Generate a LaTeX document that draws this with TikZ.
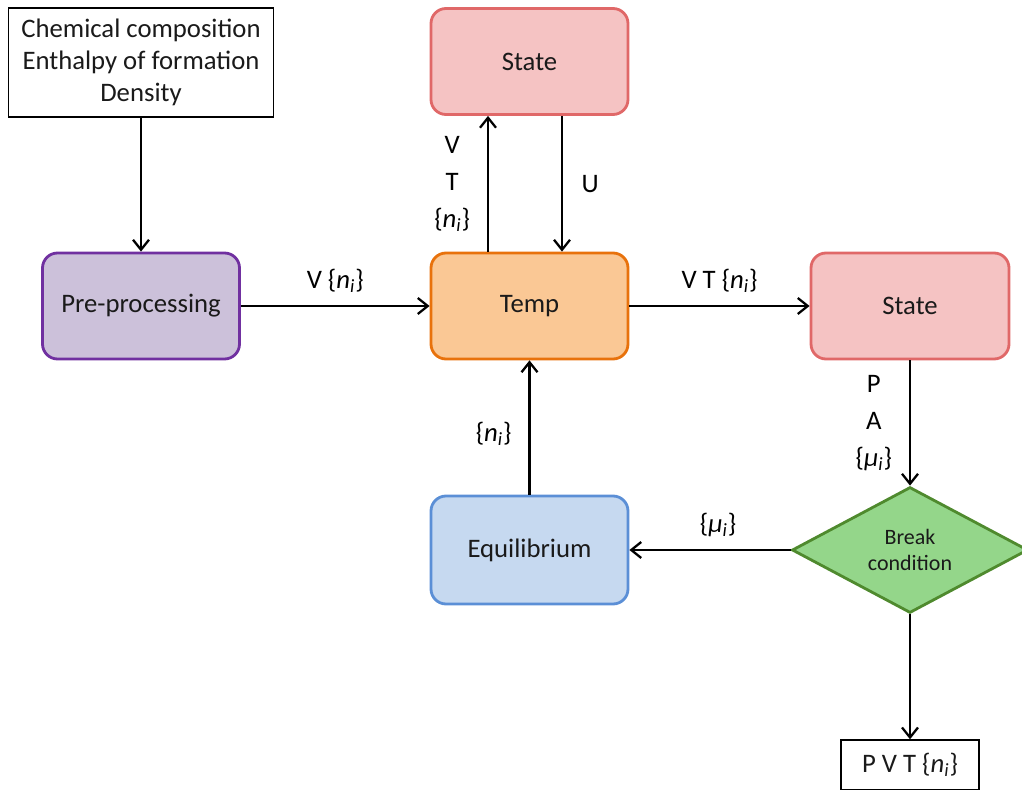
\documentclass[tikz,border=0pt]{standalone}
\usepackage{fontspec}
\setmainfont{Carlito}
\usetikzlibrary{positioning, arrows.meta, shapes.geometric}

\definecolor{preFill}{HTML}{CCC1DA}
\definecolor{preLine}{HTML}{7030A0}
\definecolor{tempFill}{HTML}{FAC895}
\definecolor{tempLine}{HTML}{E8720C}
\definecolor{stateFill}{HTML}{F5C3C3}
\definecolor{stateLine}{HTML}{E06868}
\definecolor{eqFill}{HTML}{C6D9F0}
\definecolor{eqLine}{HTML}{5B8FD6}
\definecolor{breakFill}{HTML}{94D68A}
\definecolor{breakLine}{HTML}{4F8A2E}
\definecolor{txt}{HTML}{1A1A1A}

\begin{document}
\begin{tikzpicture}[
    % Styles
    every node/.style={font=\fontsize{15.2}{18.2}\selectfont, text=txt},
    plain/.style={draw=black, line width=0.8pt, fill=white, align=center},
    block/.style={line width=1.6pt, rounded corners=0.3cm, minimum width=3.94cm, minimum height=2.12cm, align=center},
    decision/.style={diamond, draw=breakLine, fill=breakFill, line width=1.6pt, minimum width=4.72cm, minimum height=2.5cm, inner sep=0pt, align=center, font=\fontsize{12.5}{15}\selectfont},
    flow-arrow/.style={-{Straight Barb[length=2mm, width=3.2mm]}, line width=1.3pt, black},
    lbl/.style={text=black},
    stack/.style={align=center, text=black, font=\fontsize{15.2}{21}\selectfont},
]

% Frame of the picture
\useasboundingbox (0, 0) rectangle (20.44, -15.8);
\clip (0, 0) rectangle (20.44, -15.8);

% Input data
\node[plain, minimum width=5.3cm, minimum height=2.18cm] (input) at (2.82, -1.25)
    {Chemical composition\\Enthalpy of formation\\Density};

% Main blocks
\node[block, draw=preLine, fill=preFill] (pre) at (2.82, -6.12) {Pre-processing};
\node[block, draw=tempLine, fill=tempFill] (temp) at (10.59, -6.12) {Temp};
\node[block, draw=stateLine, fill=stateFill] (statetop) at (10.59, -1.23) {State};
\node[block, draw=stateLine, fill=stateFill, minimum width=3.96cm] (stateright) at (18.2, -6.12) {State};
\node[block, draw=eqLine, fill=eqFill, minimum height=2.16cm] (equil) at (10.59, -11.0) {Equilibrium};

% Break condition
\node[decision] (break) at (18.2, -11.0) {Break\\condition};

% Output
\node[plain, minimum width=2.76cm, minimum height=1.0cm] (output) at (18.2, -15.3)
    {P V T \{\textit{n\textsubscript{i}}\}};

% Arrows
\draw[flow-arrow] (input) -- (pre);
\draw[flow-arrow] (pre) -- node[lbl, above=0.12cm] (lvn) {V \{\textit{n\textsubscript{i}}\}} (temp);
\draw[flow-arrow] (temp) -- node[lbl, above=0.12cm] (lvtn) {V T \{\textit{n\textsubscript{i}}\}} (stateright);
\draw[flow-arrow] ([xshift=-0.83cm]temp.north) -- node[stack, left=0.22cm] (lup)
    {V\\T\\\{\textit{n\textsubscript{i}}\}} ([xshift=-0.83cm]statetop.south);
\draw[flow-arrow] ([xshift=0.65cm]statetop.south) -- node[lbl, right=0.25cm] (lu) {U} ([xshift=0.65cm]temp.north);
\draw[flow-arrow] (equil) -- node[lbl, left=0.22cm, pos=0.45] (ln) {\{\textit{n\textsubscript{i}}\}} (temp);
\draw[flow-arrow] (stateright) -- node[stack, left=0.22cm] (lpa)
    {P\\A\\\{\textit{μ\textsubscript{i}}\}} (break);
\draw[flow-arrow] (break) -- node[lbl, above=0.12cm, pos=0.45] (lmu) {\{\textit{μ\textsubscript{i}}\}} (equil);
\draw[flow-arrow] (break) -- (output);

\end{tikzpicture}
\end{document}
